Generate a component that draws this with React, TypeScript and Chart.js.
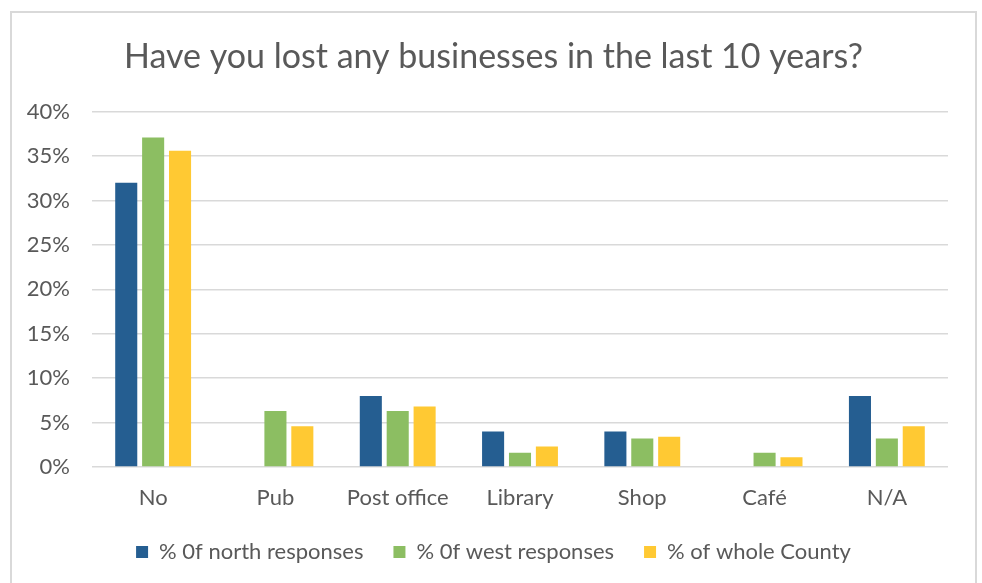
import React, { useEffect, useRef } from "react";
import { Chart, registerables } from "chart.js";
Chart.register(...registerables);

const titleText = "Have you lost any businesses in the last 10 years?";
const categories = ["No", "Pub", "Post office", "Library", "Shop", "Café", "N/A"];
const northLabel = "% 0f north responses";
const westLabel = "% 0f west responses";
const countyLabel = "% of whole County";
const northValues = [32, 0, 8, 4, 4, 0, 8];
const westValues = [37.1, 6.3, 6.3, 1.6, 3.2, 1.6, 3.2];
const countyValues = [35.6, 4.6, 6.8, 2.3, 3.4, 1.1, 4.6];
const yMin = 0;
const yMax = 40;
const yStep = 5;

const FONT = "Lato, 'Open Sans', sans-serif";
const TEXT = "#595959";

export default function App() {
  const ref = useRef<HTMLCanvasElement>(null);
  useEffect(() => {
    document.body.style.margin = "0";
    const chart = new Chart(ref.current!, {
      type: "bar",
      data: {
        labels: categories,
        datasets: [
          { label: northLabel, data: northValues, backgroundColor: "#255E91", yAxisID: "y" },
          { label: westLabel, data: westValues, backgroundColor: "#8CBE62", yAxisID: "y" },
          { label: countyLabel, data: countyValues, backgroundColor: "#FFC933", yAxisID: "y" },
        ],
      },
      options: {
        responsive: false,
        animation: false,
        devicePixelRatio: 1,
        datasets: { bar: { categoryPercentage: 0.66, barPercentage: 0.82 } },
        layout: { padding: { left: 11, right: 6, top: 37, bottom: 10 } },
        plugins: {
          title: {
            display: true,
            text: titleText,
            color: TEXT,
            font: { family: FONT, size: 34, weight: "normal" },
            padding: { top: 0, bottom: 34 },
          },
          legend: {
            position: "bottom",
            labels: {
              boxWidth: 12,
              boxHeight: 12,
              color: TEXT,
              font: { family: FONT, size: 22 },
              padding: 30,
            },
          },
          tooltip: { enabled: false },
        },
        scales: {
          y: {
            min: yMin,
            max: yMax,
            position: "left",
            ticks: {
              stepSize: yStep,
              color: TEXT,
              font: { family: FONT, size: 22 },
              padding: 22,
              callback: (v: any) => v + "%",
            },
            grid: { color: "#d9d9d9", lineWidth: 1.5, drawTicks: false },
            border: { display: false },
            afterFit: (s: any) => { s.width = 81; },
          },
          yRight: {
            position: "right",
            min: yMin,
            max: yMax,
            ticks: { display: false },
            grid: { display: false, drawTicks: false },
            border: { display: false },
            afterFit: (s: any) => { s.width = 28; },
          },
          x: {
            grid: { display: false, drawTicks: false },
            border: { display: false },
            ticks: { color: TEXT, font: { family: FONT, size: 22 }, padding: 18 },
            afterFit: (s: any) => { s.height = 44; },
          },
        },
      },
    });
    return () => chart.destroy();
  }, []);
  return (
    <div style={{ position: "relative", width: 982, height: 583, background: "#fff", overflow: "hidden" }}>
      <div
        style={{
          position: "absolute",
          left: 10,
          top: 11,
          width: 967,
          height: 580,
          border: "2px solid #d9d9d9",
          borderBottom: "none",
          boxSizing: "border-box",
        }}
      />
      <canvas
        ref={ref}
        width={982}
        height={583}
        style={{ position: "absolute", left: 0, top: 0, width: 982, height: 583 }}
      />
    </div>
  );
}
